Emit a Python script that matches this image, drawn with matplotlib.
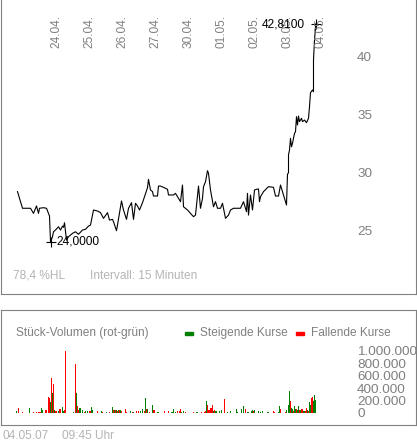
import numpy as np
import matplotlib
matplotlib.use('Agg')
from matplotlib import pyplot as plt
from matplotlib.ticker import FuncFormatter

plt.rcParams['font.family'] = ['Liberation Sans', 'DejaVu Sans']

# price line: interval number (15 min) since start, price
price_idx = [1, 2, 6, 14, 17, 20, 22, 23, 27, 30, 33, 34, 36, 37, 39, 42, 44, 46, 47, 48,
             50, 52, 56, 59, 62, 66, 69, 72, 74, 77, 81, 84, 87, 91, 93, 96, 97, 100, 101, 105,
             107, 110, 112, 115, 117, 119, 121, 123, 126, 128, 131, 132, 134, 136, 137, 141, 142, 144, 147, 151,
             152, 157, 159, 161, 164, 166, 167, 171, 177, 179, 182, 184, 186, 187, 189, 191, 192, 194, 197, 199,
             201, 204, 206, 207, 209, 212, 214, 217, 224, 227, 230, 231, 232, 234, 236, 238, 240, 242, 243, 244,
             247, 252, 257, 259, 262, 264, 267, 270, 271, 272, 272, 273, 274, 275, 276, 277, 278, 279, 280, 281,
             282, 283, 285, 286, 288, 290, 292, 293, 294, 296, 297, 297, 298, 299, 299]
price_val = [28.33, 28.04, 26.89, 26.89, 26.45, 27.09, 26.45, 26.89, 26.94, 26.89, 26.22, 24.00, 24.43, 24.86, 25.01, 25.29, 25.01, 25.35, 25.24, 25.64,
             24.14, 24.43, 24.72, 24.86, 24.64, 25.01, 25.07, 25.35, 25.44, 26.74, 26.65, 26.51, 26.02, 26.51, 25.87, 25.93, 25.73, 24.95, 25.44, 27.52,
             26.74, 25.93, 26.89, 27.37, 25.93, 27.32, 27.09, 26.74, 27.37, 27.89, 28.67, 29.39, 28.47, 28.33, 27.95, 27.95, 28.81, 28.81, 28.70, 28.53,
             28.04, 28.04, 28.18, 27.89, 27.46, 28.90, 27.02, 26.74, 26.16, 26.30, 28.81, 26.89, 27.75, 28.75, 29.19, 30.14, 29.91, 28.47, 27.02, 27.46,
             26.89, 26.89, 27.32, 26.89, 26.02, 26.30, 26.74, 26.89, 26.89, 27.46, 26.59, 28.18, 26.30, 28.04, 26.74, 28.47, 28.53, 28.56, 27.46, 27.89,
             28.33, 28.76, 28.70, 27.95, 27.95, 28.90, 28.04, 27.17, 29.83, 29.97, 31.50, 31.93, 32.94, 32.21, 32.51, 32.94, 33.37, 33.51, 34.81, 34.09,
             34.87, 34.38, 34.67, 34.38, 34.52, 34.29, 34.67, 35.67, 36.89, 37.12, 36.97, 39.71, 41.44, 42.46, 42.81]

# volume per interval (thousand pieces), g = rising, r = falling
vol_idx = [0, 2, 6, 13, 17, 20, 22, 23, 24, 25, 26, 29, 30, 32, 33, 34, 35, 36, 37, 38,
           39, 40, 42, 43, 44, 46, 47, 48, 49, 57, 59, 60, 61, 62, 63, 64, 66, 68, 69, 71,
           73, 74, 75, 76, 81, 85, 86, 90, 93, 96, 97, 98, 99, 100, 101, 102, 103, 104, 105, 109,
           110, 114, 116, 117, 120, 122, 124, 126, 128, 129, 130, 131, 133, 136, 137, 138, 141, 142, 148, 152,
           155, 156, 157, 159, 161, 163, 164, 165, 167, 169, 177, 180, 181, 185, 188, 189, 190, 191, 192, 193,
           194, 195, 196, 197, 198, 199, 200, 203, 205, 208, 211, 214, 220, 221, 225, 227, 229, 231, 232, 235,
           236, 237, 238, 242, 244, 246, 251, 252, 257, 258, 262, 263, 264, 269, 270, 272, 273, 274, 275, 276,
           277, 278, 279, 280, 281, 282, 283, 284, 285, 286, 287, 288, 289, 290, 291, 292, 293, 294, 295, 296,
           297, 298, 299]
vol_val = [27, 75, 16, 75, 16, 16, 16, 16, 16, 75, 43, 43, 43, 256, 240, 171, 555, 315, 459, 43,
           27, 27, 27, 59, 59, 91, 27, 43, 1000, 16, 795, 315, 107, 43, 75, 75, 43, 16, 27, 27,
           27, 27, 91, 43, 27, 27, 16, 16, 16, 91, 43, 43, 43, 43, 27, 43, 43, 43, 27, 59,
           16, 27, 16, 16, 27, 27, 27, 59, 27, 240, 59, 59, 16, 123, 43, 43, 16, 16, 27, 27,
           16, 16, 59, 16, 27, 27, 59, 16, 27, 16, 16, 16, 16, 16, 16, 27, 187, 123, 43, 43,
           69, 75, 123, 27, 43, 27, 27, 27, 43, 219, 16, 27, 59, 16, 59, 107, 59, 16, 16, 27,
           43, 27, 43, 27, 16, 27, 16, 16, 27, 16, 16, 107, 59, 16, 43, 123, 347, 187, 75, 59,
           27, 107, 59, 59, 43, 107, 43, 43, 59, 59, 27, 27, 27, 75, 43, 27, 171, 123, 240, 250,
           187, 283, 203]
vol_dir = ('grrgrrrrrggrrrrgrgrg' 'rrgrrggrrgrgrrgggrgg' 'rrggrgrgrgrgrgrgrgrr'
           'rgrgrrggrgrgrgrrggrr' 'ggggrrrggrrggrrrgrrr' 'rrrgrggggrggggggrggg'
           'grggggggrrggrrgggrgg' 'rggrggrgrrggrrgrggrr' 'ggg')

day_labels = ['24.04.', '25.04.', '26.04.', '27.04.', '30.04.', '01.05.', '02.05.', '03.05.', '04.05.']
day_start = [34, 67, 100, 133, 166, 199, 232, 265, 298]
price_ticks = [25, 30, 35, 40]
vol_ticks = [0, 200000, 400000, 600000, 800000, 1000000]

W, H = 417, 443
GRAY = '#808080'
LIGHT = '#b4b4b4'
FS = 8.6


def px_box(x0, y0, x1, y1):
    return [x0 / W, 1 - y1 / H, (x1 - x0) / W, (y1 - y0) / H]


fig = plt.figure(figsize=(W / 100, H / 100), dpi=100)

# ---- price panel
ax = fig.add_axes(px_box(0.5, 0, 415.5, 293.5))
ax.plot(price_idx, price_val, color='black', lw=0.8)
ax.set_xlim(-16, 399)
ax.set_ylim(19.52, 44.9)
ax.set_xticks([])
ax.yaxis.tick_right()
ax.set_yticks(price_ticks)
ax.set_yticklabels([str(t) for t in price_ticks])
ax.tick_params(axis='y', length=0, pad=-42, labelsize=9.7, labelcolor=GRAY)
for s in ['left', 'right', 'bottom']:
    ax.spines[s].set_color(GRAY)
    ax.spines[s].set_linewidth(0.8)
ax.spines['top'].set_visible(False)

for lab, d in zip(day_labels, day_start):
    ax.text(d, 1 - 15 / 293.5, lab, rotation=90, ha='left', va='top',
            fontsize=FS, color=GRAY, transform=ax.get_xaxis_transform())

pv = np.array(price_val)
imax = int(np.argmax(pv))
imin = int(np.argmin(pv))
for i, ha, dx in [(imax, 'right', -7.5), (imin, 'left', 4.5)]:
    ax.plot(price_idx[i], pv[i], marker='+', color='black', ms=7.5, mew=0.8)
    ax.annotate(f'{pv[i]:.4f}'.replace('.', ','), (price_idx[i], pv[i]),
                xytext=(dx, 0), textcoords='offset points', ha=ha, va='center',
                fontsize=FS, color='black')

fig.text(12.7 / W, 1 - 276 / H, '78,4 %HL', fontsize=FS, color=LIGHT, va='center')
fig.text(90 / W, 1 - 276 / H, 'Intervall: 15 Minuten', fontsize=FS, color=LIGHT, va='center')

# ---- volume panel
av = fig.add_axes(px_box(0.5, 309.5, 415.5, 424.5))
colors = ['#008000' if c == 'g' else '#ff0000' for c in vol_dir]
av.bar(vol_idx, np.array(vol_val) * 1000, width=1.0, color=colors, linewidth=0)
av.set_xlim(-16, 399)
av.set_ylim(-191000, 1672000)
av.set_xticks([])
av.yaxis.tick_right()
av.set_yticks(vol_ticks)
av.yaxis.set_major_formatter(FuncFormatter(lambda v, p: f'{v:,.0f}'.replace(',', '.')))
av.tick_params(axis='y', length=0, pad=-42, labelsize=9.7, labelcolor=GRAY)
for s in av.spines.values():
    s.set_color(GRAY)
    s.set_linewidth(0.8)

fig.text(16 / W, 1 - 333 / H, 'Stück-Volumen (rot-grün)', fontsize=FS, color=GRAY, va='center')
for x0, col, lab in [(185, '#008000', 'Steigende Kurse'), (295.7, '#ff0000', 'Fallende Kurse')]:
    fig.patches.append(plt.Rectangle((x0 / W, 1 - 335 / H), 8 / W, 3 / H,
                                     transform=fig.transFigure, color=col))
    fig.text((x0 + 15) / W, 1 - 333 / H, lab, fontsize=FS, color=GRAY, va='center')

fig.text(2.7 / W, 1 - 435.7 / H, '04.05.07', fontsize=FS, color=LIGHT, va='center')
fig.text(61.7 / W, 1 - 435.7 / H, '09:45 Uhr', fontsize=FS, color=LIGHT, va='center')

fig.savefig('out.png', dpi=100)
